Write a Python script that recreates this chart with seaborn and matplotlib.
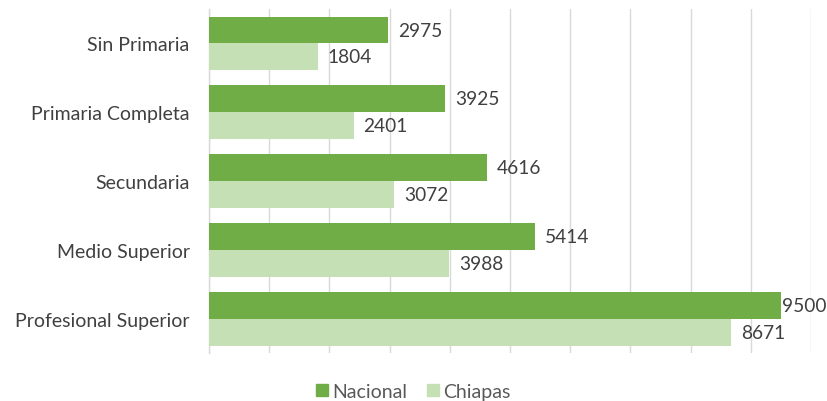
import matplotlib.pyplot as plt
import seaborn as sns
import pandas as pd

categorias = ["Sin Primaria", "Primaria Completa", "Secundaria", "Medio Superior", "Profesional Superior"]
nacional = [2975, 3925, 4616, 5414, 9500]
chiapas = [1804, 2401, 3072, 3988, 8671]
series = ["Nacional", "Chiapas"]

C_OSCURO = "#70AD47"
C_CLARO = "#C5E0B4"
C_TEXTO = "#404040"

df = pd.DataFrame({
    "categoria": categorias * 2,
    "valor": nacional + chiapas,
    "serie": [series[0]] * len(categorias) + [series[1]] * len(categorias),
})

sns.set_theme(style="white")
plt.rcParams["font.family"] = ["Lato", "DejaVu Sans"]

fig = plt.figure(figsize=(8.27, 4.02), dpi=100)
ax = fig.add_axes([0.2527, 0.119, 0.728, 0.856])

sns.barplot(data=df, x="valor", y="categoria", hue="serie", orient="h",
            palette=[C_OSCURO, C_CLARO], width=0.78, ax=ax, legend=False,
            saturation=1, zorder=3, linewidth=0)

ax.set_xlim(0, 10000)
ax.set_ylim(4.5, -0.5)
ax.set_xticks(range(0, 10001, 1000))
ax.set_xticklabels([])
ax.tick_params(axis="x", length=0)
ax.tick_params(axis="y", length=0, labelsize=14, labelcolor=C_TEXTO, pad=14)
ax.grid(axis="x", color="#D9D9D9", linewidth=1, zorder=0)
ax.set_xlabel("")
ax.set_ylabel("")
for lado in ["top", "right", "bottom"]:
    ax.spines[lado].set_visible(False)
ax.spines["left"].set_color("#D9D9D9")
ax.spines["left"].set_linewidth(1)

for cont in ax.containers:
    for barra in cont:
        w = barra.get_width()
        pad = 1 if w > 9000 and barra.get_facecolor()[1] < 0.75 else 10
        ax.annotate(f"{int(w)}", (w, barra.get_y() + barra.get_height() / 2),
                    xytext=(pad, 0), textcoords="offset pixels",
                    va="center", ha="left", fontsize=13.8, color=C_TEXTO)

handles = [plt.Rectangle((0, 0), 1, 1, color=C_OSCURO), plt.Rectangle((0, 0), 1, 1, color=C_CLARO)]
fig.legend(handles, series, loc="lower center", bbox_to_anchor=(0.5, -0.04), ncol=2,
           frameon=False, handlelength=0.6, handleheight=0.6, handletextpad=0.25,
           columnspacing=1.0, prop={"size": 14}, labelcolor="#595959")

fig.savefig("out.png", dpi=100)
